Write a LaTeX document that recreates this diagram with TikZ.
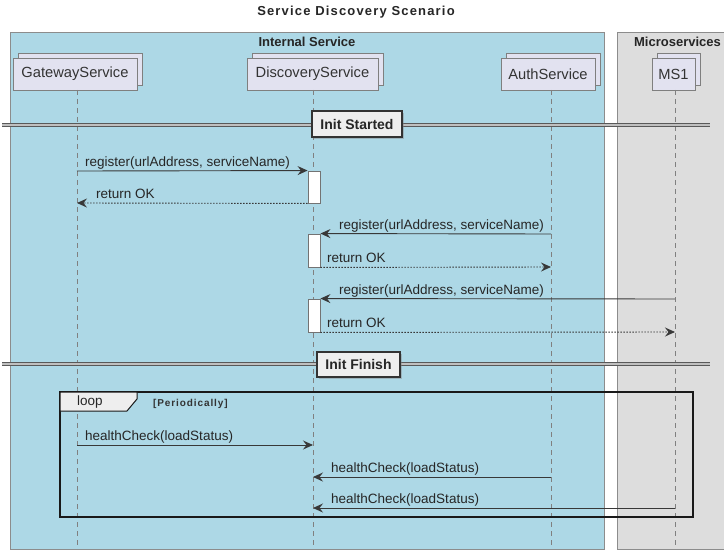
\documentclass[tikz,border=0pt]{standalone}
\usepackage{fontspec}
\setmainfont{Liberation Sans}
\newfontfamily\titlefont[LetterSpace=9]{Liberation Sans}
\newfontfamily\condfont[LetterSpace=9]{Liberation Sans}
\usetikzlibrary{arrows.meta,shadows}
\definecolor{intbg}{HTML}{ADD8E6}
\definecolor{msbg}{HTML}{DDDDDD}
\definecolor{partbg}{HTML}{E2E2F0}
\definecolor{partln}{HTML}{7F7F7F}
\definecolor{lnclr}{HTML}{383838}
\definecolor{tabbg}{HTML}{EEEEEE}
\tikzset{
  container/.style={draw=black!45, line width=0.8},
  grouplabel/.style={font=\fontsize{13}{15}\selectfont\bfseries, inner sep=0, text=black!85},
  partbox/.style={draw=partln, fill=partbg, line width=0.8, minimum height=32, inner sep=0, font=\fontsize{14.7}{16}\selectfont, text=black!80},
  lifeline/.style={draw=black!50, line width=0.8, dash pattern=on 5pt off 4pt},
  divline/.style={draw=black!65, line width=0.8, double=black!25, double distance=1.6},
  divbox/.style={draw=black!80, fill=tabbg, line width=1.3, inner sep=0, font=\fontsize{14}{16}\selectfont\bfseries, text=black!85, drop shadow={shadow xshift=2pt, shadow yshift=-2pt, opacity=0.4}},
  msg/.style={draw=lnclr, line width=0.9, -{Stealth[length=10pt,width=9pt,inset=3.5pt]}},
  retmsg/.style={msg, dash pattern=on 1.5pt off 1.5pt},
  msglabel/.style={font=\fontsize{13.5}{15}\selectfont, inner sep=0, anchor=base west, text=black!85},
  actbox/.style={draw=black!55, fill=white, line width=0.9, minimum width=12, inner sep=0},
  framebox/.style={draw=black!90, line width=1.4},
}
\begin{document}
\begin{tikzpicture}[x=1pt,y=-1pt]
\useasboundingbox[fill=white] (0,0) rectangle (724,551);

% title
\node[inner sep=0, font=\fontsize{13}{15}\selectfont\titlefont\bfseries, text=black!85] (title) at (356,12) {Service Discovery Scenario};

% containers
\draw[container, fill=intbg] (10,32) rectangle (604,549);
\draw[container, fill=msbg] (617,32) rectangle (726,549);
\node[grouplabel] (intl) at (307,42) {Internal Service};
\node[grouplabel] (msl) at (677.5,42) {Microservices};

% participants (collections: back box + front box)
\node[partbox, minimum width=124] (gwb) at (80,69) {};
\node[partbox, minimum width=124] (gw) at (75,74) {GatewayService};
\node[partbox, minimum width=131] (dsb) at (317.5,69) {};
\node[partbox, minimum width=131] (ds) at (312.5,74) {DiscoveryService};
\node[partbox, minimum width=94] (aub) at (553,69) {};
\node[partbox, minimum width=94] (au) at (548,74) {AuthService};
\node[partbox, minimum width=43] (msb) at (678.5,69) {};
\node[partbox, minimum width=43] (ms) at (673.5,74) {MS1};

% lifelines
\coordinate (gwT) at (77,90);   \coordinate (gwE) at (77,545);
\coordinate (dsT) at (313,90);  \coordinate (dsE) at (313,545);
\coordinate (auT) at (551,90);  \coordinate (auE) at (551,545);
\coordinate (msT) at (675,90);  \coordinate (msE) at (675,545);
\draw[lifeline] (gwT) -- (gwE);
\draw[lifeline] (dsT) -- (dsE);
\draw[lifeline] (auT) -- (auE);
\draw[lifeline] (msT) -- (msE);

% dividers
\coordinate (d1L) at (2,125); \coordinate (d1R) at (710,125);
\draw[divline] (d1L) -- (d1R);
\node[divbox, minimum width=90, minimum height=26] (initS) at (357,124) {Init Started};
\coordinate (d2L) at (2,364); \coordinate (d2R) at (710,364);
\draw[divline] (d2L) -- (d2R);
\node[divbox, minimum width=83, minimum height=25] (initF) at (358.5,364.5) {Init Finish};

% loop frame
\draw[framebox] (60,392) rectangle (693,517);
\draw[draw=black!90, line width=1, fill=tabbg] (60,392) -- (137,392) -- (137,399) -- (127,411) -- (60,411) -- cycle;
\node[inner sep=0, anchor=base west, font=\fontsize{13.5}{15}\selectfont, text=black!85] (looplbl) at (77,405) {loop};
\node[inner sep=0, anchor=base west, font=\fontsize{10}{11}\selectfont\condfont\bfseries, text=black!80] (cond) at (153,406) {[Periodically]};

% activations
\node[actbox, minimum height=32] (a1) at (314,187) {};
\node[actbox, minimum height=33] (a2) at (314,250.5) {};
\node[actbox, minimum height=33] (a3) at (314,315.5) {};

% message endpoints
\coordinate (gwm1) at (77,171);
\coordinate (gwm2) at (77,203);
\coordinate (aum3) at (551,234);
\coordinate (aum4) at (551,267);
\coordinate (msm5) at (675,299);
\coordinate (msm6) at (675,332);
\coordinate (gwh1) at (77,445);  \coordinate (dsh1) at (313,445);
\coordinate (auh2) at (551,477); \coordinate (dsh2) at (313,477);
\coordinate (msh3) at (675,508); \coordinate (dsh3) at (313,508);

% messages
\draw[msg] (gwm1) -- (a1.north west);
\node[msglabel] (l1) at (85,166) {register(urlAddress, serviceName)};
\draw[retmsg] (a1.south west) -- (gwm2);
\node[msglabel] (l2) at (96,198) {return OK};

\draw[msg] (aum3) -- (a2.north east);
\node[msglabel] (l3) at (339,229) {register(urlAddress, serviceName)};
\draw[retmsg] (a2.south east) -- (aum4);
\node[msglabel] (l4) at (327,262) {return OK};

\draw[msg] (msm5) -- (a3.north east);
\node[msglabel] (l5) at (339,294) {register(urlAddress, serviceName)};
\draw[retmsg] (a3.south east) -- (msm6);
\node[msglabel] (l6) at (327,327) {return OK};

\draw[msg] (gwh1) -- (dsh1);
\node[msglabel] (l7) at (85,440) {healthCheck(loadStatus)};
\draw[msg] (auh2) -- (dsh2);
\node[msglabel] (l8) at (331,472) {healthCheck(loadStatus)};
\draw[msg] (msh3) -- (dsh3);
\node[msglabel] (l9) at (331,503) {healthCheck(loadStatus)};
\end{tikzpicture}
\end{document}
